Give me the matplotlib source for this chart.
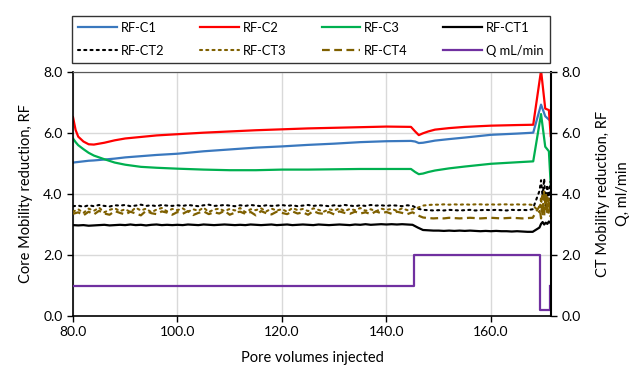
import matplotlib
matplotlib.use("Agg")
import matplotlib.pyplot as plt
from matplotlib.ticker import FormatStrFormatter, MultipleLocator

plt.rcParams['font.family'] = ['Lato', 'DejaVu Sans']

# ---- data ----
pv_c = [80, 80.5, 81, 82, 83, 84, 86, 88, 90, 93, 96, 100, 105, 110, 115, 120,
        125, 130, 135, 140, 144.7, 145.5, 146.2, 147, 148, 149.3, 152, 155, 160,
        165, 168.1, 169.6, 170.4, 171.1, 171.45]
rf_c1 = [5.03, 5.04, 5.05, 5.07, 5.09, 5.10, 5.13, 5.16, 5.20, 5.24, 5.28, 5.32,
         5.40, 5.46, 5.52, 5.56, 5.61, 5.65, 5.70, 5.73, 5.74, 5.72, 5.67, 5.68,
         5.71, 5.75, 5.80, 5.85, 5.94, 5.98, 6.01, 6.93, 6.55, 6.44, 6.40]
rf_c2 = [6.52, 6.10, 5.88, 5.72, 5.63, 5.62, 5.68, 5.76, 5.82, 5.87, 5.92, 5.96,
         6.01, 6.05, 6.09, 6.12, 6.15, 6.17, 6.19, 6.21, 6.20, 6.05, 5.93, 5.99,
         6.05, 6.11, 6.16, 6.20, 6.24, 6.26, 6.27, 8.05, 6.80, 6.75, 5.90]
rf_c3 = [5.82, 5.70, 5.60, 5.47, 5.35, 5.26, 5.14, 5.03, 4.96, 4.89, 4.86, 4.83,
         4.80, 4.78, 4.78, 4.80, 4.80, 4.81, 4.82, 4.82, 4.82, 4.72, 4.65, 4.67,
         4.72, 4.77, 4.84, 4.90, 4.99, 5.04, 5.07, 6.62, 5.55, 5.40, 4.30]

pv_ct = list(range(80, 169)) + [169.3, 169.6, 169.9, 170.2, 170.5, 170.8, 171.1, 171.4]
rf_ct1 = [2.98, 2.97, 2.98, 2.96, 2.97, 2.98, 2.99, 2.97, 2.98, 2.99,
          2.98, 3.00, 2.98, 2.99, 2.97, 2.99, 3.00, 2.98, 2.99, 2.98,
          2.99, 2.98, 3.00, 2.99, 2.98, 3.00, 2.99, 2.98, 2.99, 3.00,
          2.99, 2.98, 2.99, 2.98, 3.00, 2.99, 2.98, 2.99, 3.00, 2.98,
          2.99, 3.00, 2.98, 2.99, 3.00, 2.99, 2.98, 3.00, 2.99, 2.98,
          2.99, 3.00, 2.99, 2.98, 3.00, 2.99, 3.01, 2.99, 3.00, 3.01,
          3.00, 3.01, 3.00, 3.01, 3.00, 2.99, 2.90, 2.82, 2.81, 2.80,
          2.80, 2.79, 2.80, 2.79, 2.80, 2.79, 2.80, 2.79, 2.78, 2.79,
          2.78, 2.79, 2.78, 2.78, 2.77, 2.78, 2.77, 2.76, 2.76,
          2.90, 3.02, 3.08, 3.00, 3.06, 3.02, 3.10, 3.05]
rf_ct2 = [3.60, 3.62, 3.58, 3.63, 3.60, 3.64, 3.61, 3.59, 3.63, 3.62,
          3.64, 3.60, 3.62, 3.65, 3.61, 3.63, 3.60, 3.64, 3.62, 3.61,
          3.63, 3.61, 3.64, 3.62, 3.60, 3.63, 3.65, 3.61, 3.62, 3.64,
          3.62, 3.60, 3.63, 3.61, 3.64, 3.62, 3.60, 3.63, 3.61, 3.62,
          3.64, 3.61, 3.63, 3.60, 3.62, 3.64, 3.61, 3.63, 3.62, 3.60,
          3.63, 3.61, 3.64, 3.62, 3.60, 3.63, 3.61, 3.64, 3.62, 3.63,
          3.61, 3.63, 3.62, 3.60, 3.63, 3.61, 3.52, 3.48, 3.47, 3.46,
          3.47, 3.46, 3.48, 3.47, 3.46, 3.47, 3.48, 3.46, 3.47, 3.48,
          3.47, 3.48, 3.47, 3.46, 3.48, 3.47, 3.48, 3.47, 3.50,
          4.10, 4.45, 3.90, 4.50, 3.60, 4.30, 3.80, 4.40]
rf_ct3 = [3.42, 3.50, 3.38, 3.52, 3.45, 3.55, 3.40, 3.48, 3.53, 3.44,
          3.50, 3.41, 3.55, 3.46, 3.52, 3.40, 3.49, 3.54, 3.43, 3.51,
          3.47, 3.53, 3.42, 3.50, 3.45, 3.55, 3.41, 3.49, 3.52, 3.44,
          3.51, 3.46, 3.54, 3.40, 3.50, 3.47, 3.53, 3.43, 3.52, 3.46,
          3.50, 3.42, 3.54, 3.47, 3.51, 3.44, 3.53, 3.48, 3.42, 3.50,
          3.46, 3.53, 3.44, 3.51, 3.47, 3.54, 3.45, 3.50, 3.43, 3.52,
          3.48, 3.51, 3.45, 3.53, 3.47, 3.50, 3.55, 3.62, 3.64, 3.65,
          3.65, 3.66, 3.65, 3.66, 3.65, 3.66, 3.65, 3.66, 3.66, 3.65,
          3.66, 3.65, 3.66, 3.66, 3.65, 3.66, 3.65, 3.66, 3.64,
          3.40, 3.90, 3.30, 4.10, 3.50, 3.95, 3.35, 3.80]
rf_ct4 = [3.35, 3.40, 3.30, 3.42, 3.33, 3.45, 3.36, 3.32, 3.44, 3.38,
          3.33, 3.42, 3.36, 3.30, 3.45, 3.37, 3.34, 3.43, 3.39, 3.32,
          3.41, 3.35, 3.44, 3.31, 3.38, 3.43, 3.34, 3.40, 3.36, 3.45,
          3.32, 3.39, 3.42, 3.35, 3.41, 3.30, 3.44, 3.37, 3.33, 3.42,
          3.38, 3.34, 3.43, 3.36, 3.40, 3.32, 3.44, 3.37, 3.35, 3.41,
          3.33, 3.43, 3.38, 3.35, 3.42, 3.36, 3.40, 3.34, 3.43, 3.37,
          3.41, 3.35, 3.42, 3.38, 3.34, 3.40, 3.30, 3.23, 3.21, 3.20,
          3.21, 3.20, 3.22, 3.21, 3.20, 3.21, 3.22, 3.21, 3.20, 3.21,
          3.22, 3.21, 3.20, 3.21, 3.22, 3.21, 3.20, 3.21, 3.22,
          3.60, 3.20, 3.95, 3.30, 4.05, 3.40, 3.85, 3.25]

pv_q = [80, 145.3, 145.3, 169.4, 169.4, 171.4, 171.4]
q = [1.0, 1.0, 2.0, 2.0, 0.2, 0.2, 1.0]

xticks = [80, 100, 120, 140, 160]

# ---- figure ----
fig = plt.figure(figsize=(6.38, 3.71), dpi=100)
ax = fig.add_axes([0.1144, 0.1482, 0.7492, 0.6578])
ax2 = ax.twinx()

blue, red, green = '#3A78BE', '#FF0000', '#00B050'
olive, purple = '#7F6000', '#7030A0'
lw = 1.6

h1, = ax.plot(pv_c, rf_c1, color=blue, lw=lw, label='RF-C1')
h2, = ax.plot(pv_c, rf_c2, color=red, lw=lw, label='RF-C2')
h3, = ax.plot(pv_c, rf_c3, color=green, lw=lw, label='RF-C3')
h4, = ax2.plot(pv_ct, rf_ct1, color='black', lw=lw, label='RF-CT1')
h5, = ax2.plot(pv_ct, rf_ct2, color='black', lw=1.5, ls=(0, (1, 2)),
               dash_capstyle='round', label='RF-CT2')
h6, = ax2.plot(pv_ct, rf_ct3, color=olive, lw=1.5, ls=(0, (1, 2)),
               dash_capstyle='round', label='RF-CT3')
h7, = ax2.plot(pv_ct, rf_ct4, color=olive, lw=1.6, ls=(0, (3.5, 2)),
               label='RF-CT4')
h8, = ax2.plot(pv_q, q, color=purple, lw=lw, label='Q mL/min')

for a in (ax, ax2):
    a.set_ylim(0, 8)
    a.yaxis.set_major_locator(MultipleLocator(2))
    a.yaxis.set_major_formatter(FormatStrFormatter('%.1f'))
    a.tick_params(axis='y', labelsize=10, direction='out', length=4, width=1)
ax.set_xlim(80, 171.5)
ax.set_xticks(xticks)
ax.xaxis.set_major_formatter(FormatStrFormatter('%.1f'))
ax.tick_params(axis='x', labelsize=10, direction='out', length=4, width=1)

ax.grid(True, color='#D9D9D9', lw=1)
ax.set_axisbelow(True)
for s in ('left', 'bottom'):
    ax.spines[s].set_color('black')
    ax.spines[s].set_linewidth(1.2)
ax2.spines['right'].set_color('black')
ax2.spines['right'].set_linewidth(1.5)
ax2.spines['left'].set_visible(False)
ax2.spines['bottom'].set_visible(False)
ax.spines['right'].set_visible(False)
ax.spines['top'].set_color('#595959')
ax2.spines['top'].set_color('#595959')

ax.set_xlabel('Pore volumes injected', fontsize=10.5, labelpad=9)
ax.set_ylabel('Core Mobility reduction, RF', fontsize=10.5, labelpad=7)
ax2.set_ylabel('CT Mobility reduction, RF\nQ, ml/min', fontsize=10.5,
               labelpad=11, linespacing=1.5)

# legend fills column by column, so order handles to read row-wise
handles = [h1, h5, h2, h6, h3, h7, h4, h8]
leg = fig.legend(handles, [h.get_label() for h in handles], ncol=4,
                 loc='lower left', mode='expand',
                 bbox_to_anchor=(0.1124, 0.829, 0.7496, 0.142),
                 fontsize=9.3, frameon=True, fancybox=False,
                 edgecolor='black', handlelength=3.0, handletextpad=0.3,
                 labelspacing=0.85, borderaxespad=0, borderpad=0.5,
                 columnspacing=1.0)
leg.get_frame().set_linewidth(1.0)

fig.savefig('out.png', dpi=100)
